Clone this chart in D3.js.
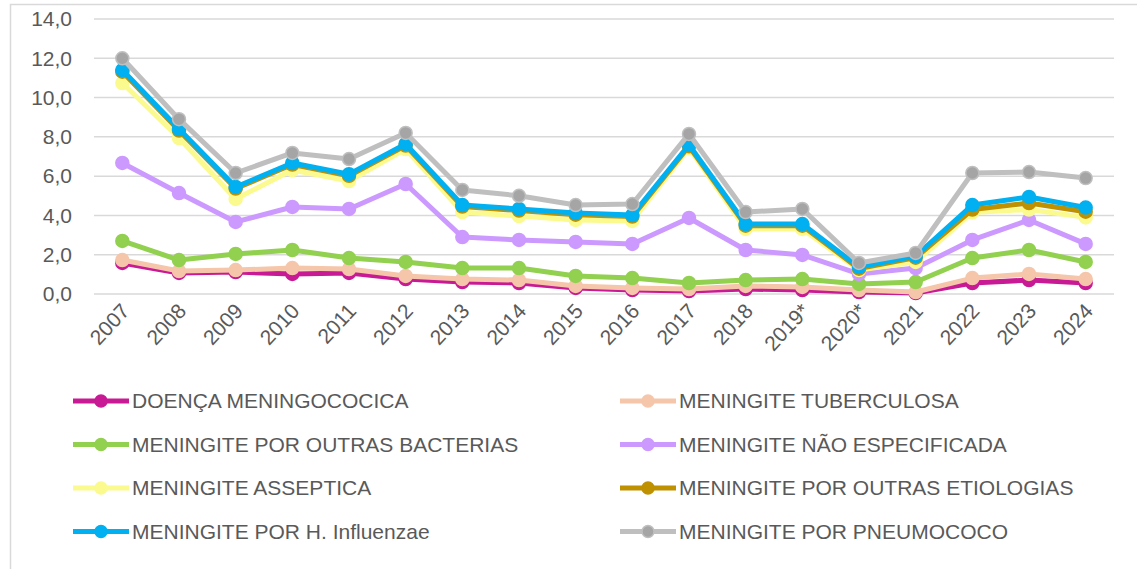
<!DOCTYPE html>
<html>
<head>
<meta charset="utf-8">
<script src="https://cdn.jsdelivr.net/npm/d3@7"></script>
<style>
  html, body { margin: 0; padding: 0; background: #fff; overflow: hidden; }
  svg { display: block; }
  text { font-family: "Liberation Sans", Arial, sans-serif; fill: #595959; }
</style>
</head>
<body>
<svg id="chart" width="1137" height="569"></svg>
<script>
// anos (categorias)
var years = ['2007','2008','2009','2010','2011','2012','2013','2014','2015','2016','2017','2018','2019*','2020*','2021','2022','2023','2024'];

// valores por etiologia (empilhados no grafico)
var meningococica   = [1.58,1.07,1.12,1.02,1.07,0.76,0.61,0.56,0.31,0.20,0.15,0.25,0.20,0.10,0.05,0.56,0.71,0.56];
var tuberculosa     = [0.15,0.10,0.10,0.30,0.20,0.16,0.15,0.15,0.10,0.11,0.10,0.16,0.16,0.10,0.05,0.25,0.31,0.20];
var outrasBacterias = [0.97,0.56,0.82,0.92,0.56,0.71,0.56,0.61,0.51,0.50,0.31,0.30,0.40,0.31,0.51,1.02,1.22,0.87];
var naoEspecificada = [3.97,3.41,1.63,2.19,2.50,3.97,1.58,1.43,1.73,1.74,3.31,1.53,1.23,0.51,0.71,0.92,1.53,0.92];
var asseptica       = [4.07,2.80,1.17,1.88,1.42,1.78,1.27,1.22,1.12,1.17,3.56,1.07,1.32,0.20,0.31,1.40,0.53,1.35];
var outrasEtiologias= [0.58,0.38,0.53,0.28,0.27,0.18,0.28,0.28,0.27,0.22,0.09,0.17,0.17,0.07,0.22,0.15,0.33,0.29];
var hInfluenzae     = [0.08,0.08,0.08,0.08,0.08,0.08,0.08,0.08,0.08,0.08,0.08,0.08,0.08,0.08,0.08,0.23,0.31,0.21];
var pneumococo      = [0.60,0.50,0.71,0.51,0.77,0.56,0.77,0.67,0.41,0.56,0.55,0.61,0.77,0.21,0.16,1.63,1.27,1.50];

var yTicks = [0, 2, 4, 6, 8, 10, 12, 14];

var series = [
    {key: 'DOENÇA MENINGOCOCICA', values: meningococica, color: '#c81a94', marker: '#c81a94'},
    {key: 'MENINGITE TUBERCULOSA', values: tuberculosa, color: '#f5c6aa', marker: '#f5c6aa'},
    {key: 'MENINGITE POR OUTRAS BACTERIAS', values: outrasBacterias, color: '#92d050', marker: '#92d050'},
    {key: 'MENINGITE NÃO ESPECIFICADA', values: naoEspecificada, color: '#cc99ff', marker: '#cc99ff'},
    {key: 'MENINGITE ASSEPTICA', values: asseptica, color: '#fbfa8f', marker: '#fbfa8f'},
    {key: 'MENINGITE POR OUTRAS ETIOLOGIAS', values: outrasEtiologias, color: '#bf9000', marker: '#bf9000'},
    {key: 'MENINGITE POR H. Influenzae', values: hInfluenzae, color: '#00b0f0', marker: '#00b0f0'},
    {key: 'MENINGITE POR PNEUMOCOCO', values: pneumococo, color: '#bfbfbf', marker: '#a5a5a5'}
];

var svg = d3.select('#chart');

// moldura do grafico
svg.append('rect')
    .attr('x', 10.5).attr('y', 4.5)
    .attr('width', 1300).attr('height', 700)
    .attr('fill', 'none')
    .attr('stroke', '#d9d9d9')
    .attr('stroke-width', 1.5);

var plotLeft = 94, plotRight = 1114, plotTop = 19, plotBottom = 294;

var x = d3.scalePoint().domain(years).range([plotLeft, plotRight]).padding(0.5);
var y = d3.scaleLinear().domain([0, 14]).range([plotBottom, plotTop]);

// tabela para d3.stack
var table = years.map(function(yr, i){
    var row = {year: yr};
    series.forEach(function(s){ row[s.key] = s.values[i]; });
    return row;
});
var stacked = d3.stack().keys(series.map(function(s){ return s.key; }))(table);

// grade
svg.append('g').selectAll('line').data(yTicks).join('line')
    .attr('x1', plotLeft).attr('x2', plotRight)
    .attr('y1', function(d){ return y(d); })
    .attr('y2', function(d){ return y(d); })
    .attr('stroke', '#d9d9d9')
    .attr('stroke-width', 1.5);

// eixo y
var fmt = d3.format('.1f');
var yAxis = svg.append('g')
    .attr('transform', 'translate(72,0)')
    .call(d3.axisLeft(y).tickValues(yTicks).tickSize(0).tickPadding(0)
        .tickFormat(function(d){ return fmt(d).replace('.', ','); }));
yAxis.select('.domain').remove();
yAxis.selectAll('text')
    .attr('font-size', 21)
    .attr('fill', '#595959')
    .style('font-family', '"Liberation Sans", Arial, sans-serif');

// eixo x
var xAxis = svg.append('g')
    .attr('transform', 'translate(0,' + plotBottom + ')')
    .call(d3.axisBottom(x).tickSize(0).tickPadding(0));
xAxis.select('.domain').remove();
xAxis.selectAll('text')
    .attr('font-size', 21)
    .attr('fill', '#595959')
    .style('font-family', '"Liberation Sans", Arial, sans-serif')
    .attr('text-anchor', 'end')
    .attr('dy', null)
    .attr('transform', 'translate(8,18) rotate(-47)');

// linhas e marcadores
var line = d3.line()
    .x(function(d){ return x(d.data.year); })
    .y(function(d){ return y(d[1]); });

var groups = svg.append('g').selectAll('g').data(stacked).join('g');

groups.append('path')
    .attr('d', function(d){ return line(d); })
    .attr('fill', 'none')
    .attr('stroke', function(d, i){ return series[i].color; })
    .attr('stroke-width', 5)
    .attr('stroke-linejoin', 'round');

groups.each(function(d, i){
    d3.select(this).selectAll('circle').data(d).join('circle')
        .attr('cx', function(p){ return x(p.data.year); })
        .attr('cy', function(p){ return y(p[1]); })
        .attr('r', 6.5)
        .attr('fill', series[i].marker)
        .attr('stroke', series[i].color)
        .attr('stroke-width', 1.5);
});

// legenda
var legend = svg.append('g').selectAll('g').data(series).join('g')
    .attr('transform', function(d, i){
        var col = i % 2, row = Math.floor(i / 2);
        return 'translate(' + (col ? 620 : 73) + ',' + (401 + row * 43.5) + ')';
    });

legend.append('line')
    .attr('x1', 0).attr('x2', 56)
    .attr('stroke', function(d){ return d.color; })
    .attr('stroke-width', 5);

legend.append('circle')
    .attr('cx', 28).attr('r', 6)
    .attr('fill', function(d){ return d.marker; })
    .attr('stroke', function(d){ return d.color; })
    .attr('stroke-width', 1.5);

legend.append('text')
    .attr('x', 59)
    .attr('dy', '0.35em')
    .attr('font-size', 21)
    .text(function(d){ return d.key; });
</script>
</body>
</html>
